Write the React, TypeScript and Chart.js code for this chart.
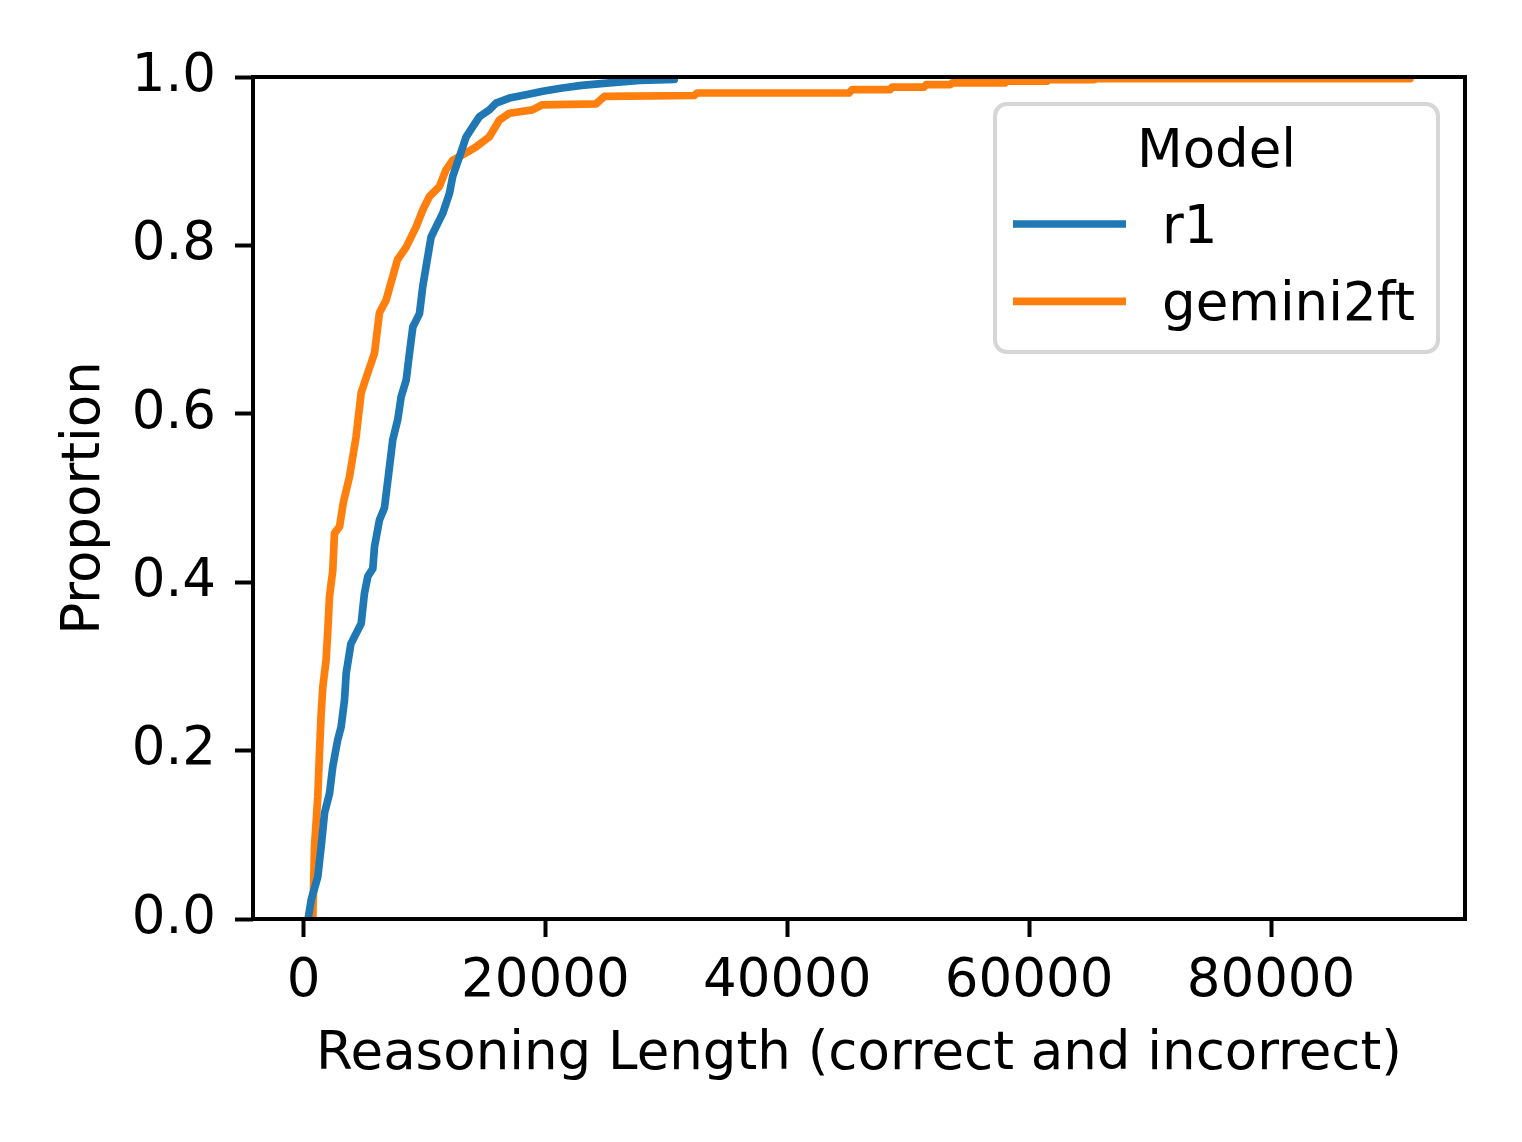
import React, { useEffect, useRef } from "react";
import { Chart, registerables } from "chart.js";

Chart.register(...registerables);

const X_TICKS = [0, 20000, 40000, 60000, 80000];
const Y_TICKS = [0, 0.2, 0.4, 0.6, 0.8, 1.0];
const X_MIN = -4176;
const X_MAX = 96040;

const SERIES_NAMES = ["r1", "gemini2ft"];
const SERIES_COLORS = ["#1f77b4", "#ff7f0e"];
const LEGEND_TITLE = "Model";
const X_LABEL = "Reasoning Length (correct and incorrect)";
const Y_LABEL = "Proportion";

const R1_LENGTH = [
  379, 640, 1180, 1460, 1740, 2150, 2420, 2830, 3110, 3390, 3530, 3920, 4350,
  4770, 5040, 5320, 5730, 5870, 6280, 6690, 7050, 7380, 7790, 8070, 8490, 8760,
  9040, 9590, 9860, 10140, 10550, 10960, 11510, 12070, 12340, 12890, 13450,
  14000, 14550, 15370, 15920, 17020, 18400, 19780, 21400, 23000, 25290, 27800,
  30660, 30660,
];
const R1_PROPORTION = [
  0, 0.023, 0.05, 0.086, 0.126, 0.149, 0.181, 0.213, 0.228, 0.26, 0.292, 0.327,
  0.339, 0.351, 0.387, 0.407, 0.416, 0.442, 0.474, 0.488, 0.53, 0.569, 0.593,
  0.62, 0.64, 0.672, 0.703, 0.719, 0.751, 0.775, 0.81, 0.822, 0.838, 0.862,
  0.882, 0.905, 0.929, 0.941, 0.953, 0.961, 0.969, 0.975, 0.979, 0.983, 0.987,
  0.99, 0.993, 0.996, 0.997, 1.0,
];

const GEMINI_LENGTH = [
  770, 910, 1180, 1320, 1460, 1600, 1870, 2010, 2150, 2420, 2560, 2980, 3300,
  3800, 4350, 4770, 5300, 5870, 6280, 6830, 7360, 7770, 8490, 9310, 9860,
  10410, 11240, 11790, 12330, 13440, 14270, 15370, 16200, 17020, 18930, 19750,
  24190, 24880, 32300, 32560, 45100, 45370, 48500, 48680, 51300, 51490, 53500,
  53640, 58000, 58100, 61500, 61650, 65400, 65540, 91484, 91484,
];
const GEMINI_PROPORTION = [
  0, 0.086, 0.145, 0.197, 0.244, 0.276, 0.308, 0.343, 0.383, 0.414, 0.458,
  0.466, 0.495, 0.525, 0.573, 0.625, 0.648, 0.672, 0.72, 0.735, 0.762, 0.783,
  0.798, 0.822, 0.842, 0.858, 0.87, 0.89, 0.901, 0.91, 0.917, 0.929, 0.949,
  0.957, 0.961, 0.967, 0.968, 0.977, 0.978, 0.981, 0.981, 0.985, 0.985, 0.988,
  0.988, 0.991, 0.991, 0.993, 0.993, 0.995, 0.995, 0.997, 0.997, 0.998, 0.998,
  1.0,
];

const FONT = "DejaVu Sans";
const FS = 53;
const LINE_W = 7.7;

const toPoints = (xs: number[], ys: number[]) =>
  xs.map((x, i) => ({ x, y: ys[i] }));

const framePlugin = {
  id: "frame",
  afterDatasetsDraw(chart: any) {
    const { ctx, chartArea: a } = chart;
    ctx.save();
    ctx.strokeStyle = "#000";
    ctx.lineWidth = 4;
    ctx.strokeRect(a.left, a.top, a.right - a.left, a.bottom - a.top);
    ctx.restore();
  },
};

const legendPlugin = {
  id: "mplLegend",
  afterDraw(chart: any) {
    const { ctx, chartArea: a } = chart;
    const left = a.right - 470;
    const right = a.right - 27;
    const top = a.top + 27;
    const bottom = a.top + 275;
    ctx.save();
    ctx.fillStyle = "rgba(255,255,255,0.8)";
    ctx.strokeStyle = "#d6d6d6";
    ctx.lineWidth = 4;
    ctx.beginPath();
    (ctx as any).roundRect(left, top, right - left, bottom - top, 12);
    ctx.fill();
    ctx.stroke();

    ctx.fillStyle = "#000";
    ctx.font = `${FS}px "${FONT}"`;
    ctx.textBaseline = "alphabetic";
    ctx.textAlign = "center";
    ctx.fillText(LEGEND_TITLE, (left + right) / 2, top + 63);

    ctx.textAlign = "left";
    chart.data.datasets.forEach((ds: any, i: number) => {
      const ly = top + 120 + i * 77.4;
      ctx.strokeStyle = ds.borderColor;
      ctx.lineWidth = LINE_W;
      ctx.beginPath();
      ctx.moveTo(left + 18, ly);
      ctx.lineTo(left + 131, ly);
      ctx.stroke();
      ctx.fillStyle = "#000";
      ctx.fillText(ds.label, left + 167, ly + 19);
    });
    ctx.restore();
  },
};

export default function App() {
  const ref = useRef<HTMLCanvasElement | null>(null);

  useEffect(() => {
    document.body.style.margin = "0";
    const canvas = ref.current;
    if (!canvas) return;
    const chart = new Chart(canvas, {
      type: "line",
      data: {
        datasets: [
          {
            label: SERIES_NAMES[0],
            data: toPoints(R1_LENGTH, R1_PROPORTION),
            borderColor: SERIES_COLORS[0],
            backgroundColor: SERIES_COLORS[0],
            borderWidth: LINE_W,
            pointRadius: 0,
            tension: 0,
            fill: false,
            clip: 0,
            borderJoinStyle: "round",
          },
          {
            label: SERIES_NAMES[1],
            data: toPoints(GEMINI_LENGTH, GEMINI_PROPORTION),
            borderColor: SERIES_COLORS[1],
            backgroundColor: SERIES_COLORS[1],
            borderWidth: LINE_W,
            pointRadius: 0,
            tension: 0,
            fill: false,
            clip: 0,
            borderJoinStyle: "round",
          },
        ],
      },
      options: {
        animation: false,
        responsive: false,
        devicePixelRatio: 1,
        layout: { padding: { left: 0, top: 77, right: 57, bottom: 0 } },
        plugins: {
          legend: { display: false },
          tooltip: { enabled: false },
          title: { display: false },
        },
        scales: {
          x: {
            type: "linear",
            min: X_MIN,
            max: X_MAX,
            afterBuildTicks: (scale: any) => {
              scale.ticks = X_TICKS.map((v) => ({ value: v }));
            },
            afterFit: (scale: any) => {
              scale.height = 223;
            },
            border: { display: false },
            grid: {
              drawOnChartArea: false,
              drawTicks: true,
              tickLength: 18,
              tickWidth: 4,
              tickColor: "#000",
            },
            ticks: {
              color: "#000",
              font: { family: FONT, size: FS },
              padding: 13,
              maxRotation: 0,
              autoSkip: false,
              callback: (v: any) => String(v),
            },
            title: {
              display: true,
              text: X_LABEL,
              color: "#000",
              font: { family: FONT, size: FS },
              padding: { top: 0, bottom: 55 },
            },
          },
          y: {
            type: "linear",
            min: 0,
            max: 1,
            afterBuildTicks: (scale: any) => {
              scale.ticks = Y_TICKS.map((v) => ({ value: v }));
            },
            afterFit: (scale: any) => {
              scale.width = 253;
            },
            border: { display: false },
            grid: {
              drawOnChartArea: false,
              drawTicks: true,
              tickLength: 18,
              tickWidth: 4,
              tickColor: "#000",
            },
            ticks: {
              color: "#000",
              font: { family: FONT, size: FS },
              padding: 19,
              autoSkip: false,
              callback: (v: any) => Number(v).toFixed(1),
            },
            title: {
              display: true,
              text: Y_LABEL,
              color: "#000",
              font: { family: FONT, size: FS },
              padding: { top: 53, bottom: 0 },
            },
          },
        },
      },
      plugins: [framePlugin, legendPlugin],
    });
    return () => chart.destroy();
  }, []);

  return (
    <canvas
      ref={ref}
      width={1522}
      height={1142}
      style={{ display: "block", width: 1522, height: 1142 }}
    />
  );
}
